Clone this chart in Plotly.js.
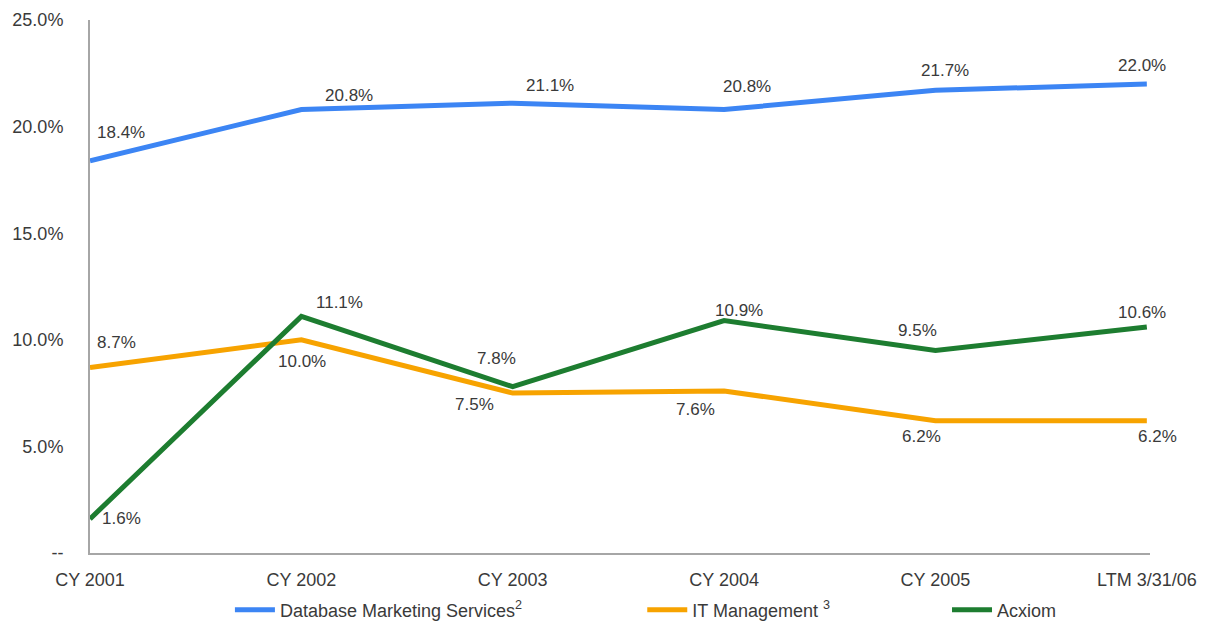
<!DOCTYPE html>
<html>
<head>
<meta charset="utf-8">
<script src="https://cdn.plot.ly/plotly-3.0.1.min.js"></script>
<style>
  html, body { margin: 0; padding: 0; background: #fff; }
  #chart { width: 1211px; height: 624px; }
</style>
</head>
<body>
<div id="chart"></div>
<script>
// periods on the x axis
const periods = ['CY 2001', 'CY 2002', 'CY 2003', 'CY 2004', 'CY 2005', 'LTM 3/31/06'];

// margin values, in percent
const dbms = [18.4, 20.8, 21.1, 20.8, 21.7, 22.0];
const itm = [8.7, 10.0, 7.5, 7.6, 6.2, 6.2];
const acxiom = [1.6, 11.1, 7.8, 10.9, 9.5, 10.6];

const yTicks = [0, 5, 10, 15, 20, 25];
const yTickText = ['--', '5.0%', '10.0%', '15.0%', '20.0%', '25.0%'];

// value label nudges (px, label centre from its point)
const dbmsDx = [31, 48, 37, 23, 10, -5], dbmsDy = [-28, -14, -18, -23, -20, -18];
const itmDx = [26, 1, -38, -29, -14, 11], itmDy = [-25, 22, 11, 19, 16, 16];
const acxDx = [31, 38, -16, 15, -18, -5], acxDy = [0, -14, -28, -10, -20, -15];

const fontFam = 'Arial, "Liberation Sans", sans-serif';
const textCol = '#3a3a3a';
const x = periods.map((_, i) => i);

function labels(vals, dx, dy) {
  return vals.map(function(v, i) {
    return {x: i, y: v, text: v.toFixed(1) + '%', showarrow: false,
      font: {family: fontFam, size: 17, color: textCol},
      xanchor: 'center', yanchor: 'middle', xshift: dx[i], yshift: -dy[i]};
  });
}

const data = [
  {x: x, y: dbms, type: 'scatter', mode: 'lines', name: 'Database Marketing Services<sup>2</sup>',
   line: {color: '#3c85f4', width: 5}, legend: 'legend'},
  {x: x, y: itm, type: 'scatter', mode: 'lines', name: 'IT Management <sup>3</sup>',
   line: {color: '#f7a300', width: 5}, legend: 'legend2'},
  {x: x, y: acxiom, type: 'scatter', mode: 'lines', name: 'Acxiom',
   line: {color: '#1d7d30', width: 5}, legend: 'legend3'}
];

const legendBase = {orientation: 'h', yanchor: 'middle', y: -0.107, xanchor: 'left',
  bgcolor: 'rgba(0,0,0,0)', font: {family: fontFam, size: 18, color: textCol}, itemwidth: 40};

const layout = {
  width: 1211, height: 624,
  margin: {l: 90, r: 61, t: 20, b: 71, autoexpand: false},
  paper_bgcolor: '#ffffff', plot_bgcolor: '#ffffff',
  font: {family: fontFam, size: 18, color: textCol},
  xaxis: {
    range: [0, 5.015], tickvals: x, ticktext: periods,
    showgrid: false, zeroline: false, showline: true, linecolor: '#a6a6a6', linewidth: 2,
    ticks: '', ticklabelstandoff: 9, fixedrange: true,
    tickfont: {family: fontFam, size: 18, color: textCol}
  },
  yaxis: {
    range: [0, 25], tickvals: yTicks, ticktext: yTickText,
    showgrid: false, zeroline: false, showline: true, linecolor: '#a6a6a6', linewidth: 2,
    ticks: '', ticklabelstandoff: 21, fixedrange: true,
    tickfont: {family: fontFam, size: 18, color: textCol}
  },
  legend: Object.assign({}, legendBase, {x: 0.132}),
  legend2: Object.assign({}, legendBase, {x: 0.521}),
  legend3: Object.assign({}, legendBase, {x: 0.8085}),
  annotations: labels(dbms, dbmsDx, dbmsDy).concat(labels(itm, itmDx, itmDy), labels(acxiom, acxDx, acxDy)),
  showlegend: true
};

Plotly.newPlot('chart', data, layout, {displayModeBar: false, staticPlot: true});
</script>
</body>
</html>
